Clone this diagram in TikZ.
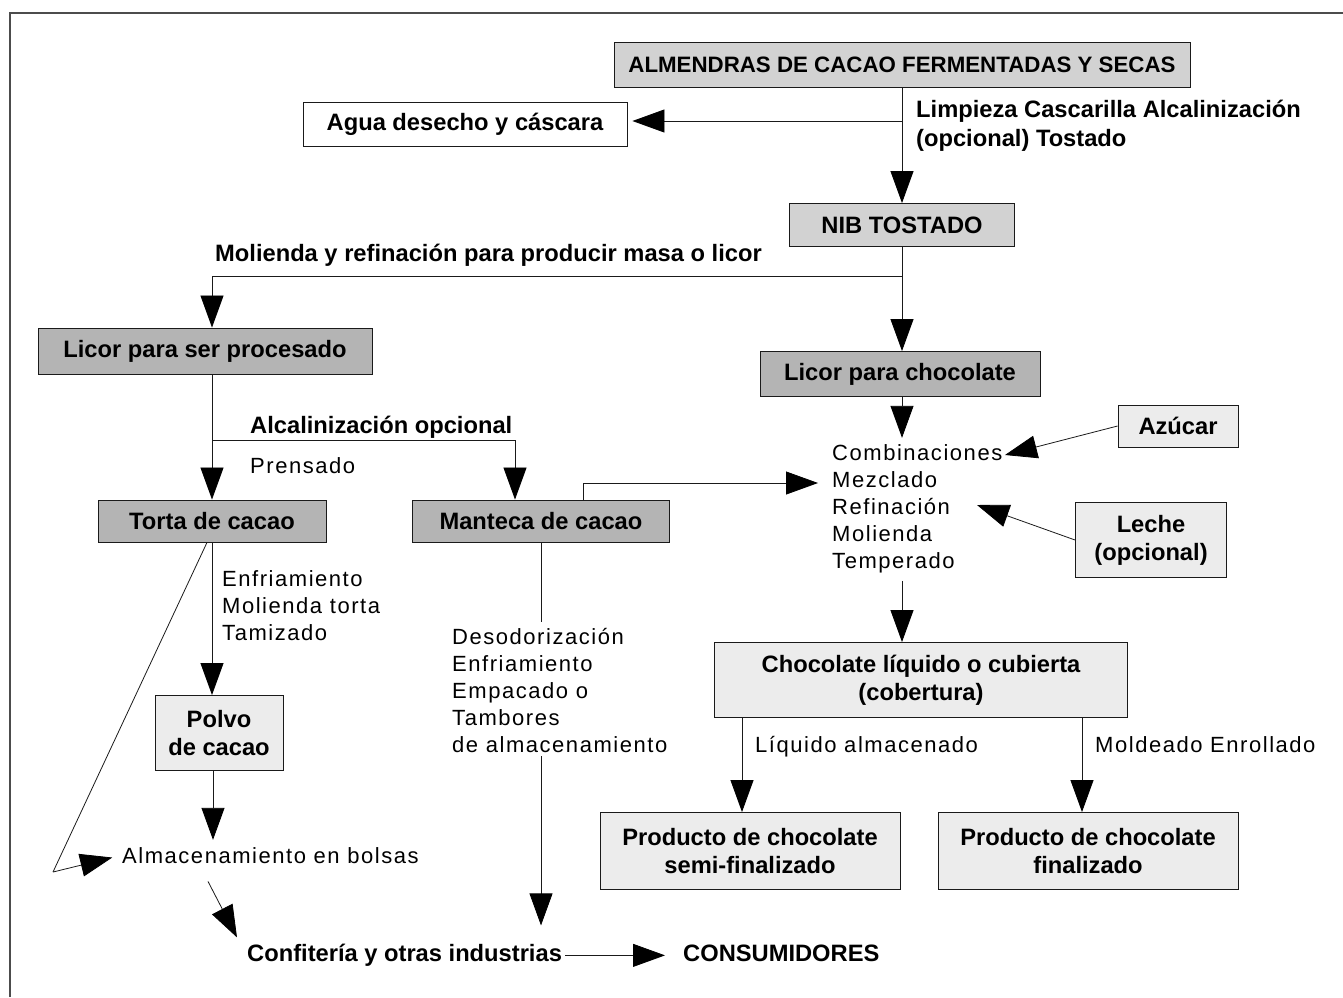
\documentclass[tikz,border=0pt]{standalone}
\usepackage{fontspec}
\setmainfont{Liberation Sans}
\newfontfamily\spacedfont[LetterSpace=7]{Liberation Sans}
\usepackage{xcolor}
\usetikzlibrary{arrows.meta,calc}
\definecolor{darkfill}{HTML}{B4B4B4}
\definecolor{midfill}{HTML}{D2D2D2}
\definecolor{palefill}{HTML}{ECECEC}
\definecolor{inkline}{HTML}{1A1A1A}

\tikzset{
  box/.style={draw=inkline,line width=0.9pt,inner sep=0pt,align=center,
    font=\fontsize{23.7}{28}\selectfont\bfseries},
  darkbox/.style={box,fill=darkfill},
  midbox/.style={box,fill=midfill},
  palebox/.style={box,fill=palefill},
  flow/.style={draw=inkline,line width=0.8pt,-{Triangle[length=32pt,width=23pt,color=black]}},
  plainline/.style={draw=inkline,line width=0.8pt},
  steptext/.style={inner sep=0pt,align=left,font=\fontsize{22}{27}\selectfont\spacedfont},
  boldtext/.style={inner sep=0pt,align=left,font=\fontsize{23.7}{28.5}\selectfont\bfseries}
}

\begin{document}
\begin{tikzpicture}[x=1pt,y=-1pt]
  \useasboundingbox (0,0) rectangle (1343,997);
  % frame
  \draw[line width=2pt,black!70] (10,997) -- (10,13) -- (1343,13);

  % boxes
  \node[midbox,font=\fontsize{22.3}{28}\selectfont\bfseries,minimum width=576pt,minimum height=45pt] (alm) at (902,65) {ALMENDRAS DE CACAO FERMENTADAS Y SECAS};
  \node[box,fill=white,minimum width=324pt,minimum height=44pt] (agua) at (465,124) {Agua desecho y cáscara};
  \node[midbox,minimum width=225pt,minimum height=43pt] (nib) at (902,225) {NIB TOSTADO};
  \node[darkbox,minimum width=334pt,minimum height=46pt] (lproc) at (205,351) {Licor para ser procesado};
  \node[darkbox,minimum width=280pt,minimum height=45pt] (lchoc) at (900,374) {Licor para chocolate};
  \node[darkbox,minimum width=228pt,minimum height=42pt] (torta) at (212,521) {Torta de cacao};
  \node[darkbox,minimum width=257pt,minimum height=42pt] (mant) at (541,521) {Manteca de cacao};
  \node[palebox,minimum width=120pt,minimum height=42pt] (azu) at (1178,426) {Azúcar};
  \node[palebox,minimum width=151pt,minimum height=75pt] (leche) at (1151,540) {Leche\\(opcional)};
  \node[palebox,minimum width=128pt,minimum height=75pt] (polvo) at (219,733) {Polvo\\de cacao};
  \node[palebox,minimum width=413pt,minimum height=75pt] (liq) at (921,680) {Chocolate líquido o cubierta\\(cobertura)};
  \node[palebox,minimum width=300pt,minimum height=77pt] (semi) at (750,851) {Producto de chocolate\\semi-finalizado};
  \node[palebox,minimum width=300pt,minimum height=77pt] (fin) at (1088,851) {Producto de chocolate\\finalizado};

  % texts (base = last line)
  \node[boldtext,anchor=base west] (limp) at (916,146) {Limpieza Cascarilla Alcalinización\\(opcional) Tostado};
  \node[boldtext,anchor=base west] (moli) at (215,261) {Molienda y refinación para producir masa o licor};
  \node[boldtext,anchor=base west] (alca) at (250,433) {Alcalinización opcional};
  \node[steptext,anchor=base west] (pren) at (250,473) {Prensado};
  \node[steptext,anchor=base west] (comb) at (832,568) {Combinaciones\\Mezclado\\Refinación\\Molienda\\Temperado};
  \node[steptext,anchor=base west] (enfr) at (222,640) {Enfriamiento\\Molienda torta\\Tamizado};
  \node[steptext,anchor=base west] (desod) at (452,752) {Desodorización\\Enfriamiento\\Empacado o\\Tambores\\de almacenamiento};
  \node[steptext,anchor=base west] (liqalm) at (755,752) {Líquido almacenado};
  \node[steptext,anchor=base west] (mold) at (1095,752) {Moldeado Enrollado};
  \node[steptext,anchor=base west] (bols) at (122,863) {Almacenamiento en bolsas};
  \node[boldtext,anchor=base west] (conf) at (247,961) {Confitería y otras industrias};
  \node[boldtext,anchor=base west] (cons) at (683,961) {CONSUMIDORES};

  % branch points and free ends
  \coordinate (b1) at (902,121);
  \coordinate (b2) at (902,276);
  \coordinate (b3) at (212,440);
  \coordinate (tri) at (53,872);
  \coordinate (combin) at (818,483);
  \coordinate (azuin) at (1005,455);
  \coordinate (lechin) at (977,505);

  % connectors
  \draw[flow] (alm.south) -- (nib.north);
  \draw[flow,shorten >=5pt] (b1) -- (b1 -| agua.east);
  \draw[flow] (nib.south) -- (nib.south |- lchoc.north);
  \draw[flow] (b2) -| ([xshift=7pt]lproc.north);
  \draw[flow] ([xshift=7pt]lproc.south) -- (torta.north);
  \draw[flow] (b3) -| ([xshift=-26pt]mant.north);
  \draw[flow] ([xshift=42pt]mant.north) |- (combin);
  \draw[flow,shorten >=6pt] ([xshift=2pt]lchoc.south) -- ([xshift=2pt]lchoc.south |- comb.north);
  \draw[flow] (azu.west) -- (azuin);
  \draw[flow] (leche.west) -- (lechin);
  \draw[flow,shorten <=8pt] ([xshift=2pt]lchoc.south |- comb.south) -- ([xshift=2pt]lchoc.south |- liq.north);
  \draw[flow] ([xshift=-8pt]semi.north |- liq.south) -- ([xshift=-8pt]semi.north);
  \draw[flow] ([xshift=-6pt]fin.north |- liq.south) -- ([xshift=-6pt]fin.north);
  \draw[flow] (torta.south) -- (torta.south |- polvo.north);
  \draw[flow,shorten >=7pt] ([xshift=-6pt]polvo.south) -- ([xshift=-6pt]polvo.south |- bols.north);
  \draw[plainline] ([xshift=-5pt]torta.south) -- (tri);
  \draw[flow,shorten >=10pt] (tri) -- (bols.west);
  \draw[flow] ($(bols.south west)+(86,18)$) -- ($(conf.north west)+(-10,-6)$);
  \draw[plainline,shorten >=6pt] (mant.south) -- (mant.south |- desod.north);
  \draw[flow,shorten <=4pt,shorten >=18pt] (mant.south |- desod.south) -- (mant.south |- conf.north);
  \draw[flow,shorten <=3pt,shorten >=18pt] ([yshift=3pt]conf.mid east) -- ([yshift=3pt]cons.mid west);
\end{tikzpicture}
\end{document}
